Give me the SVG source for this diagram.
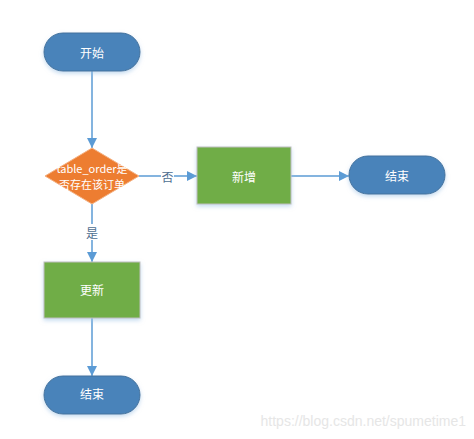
<svg xmlns="http://www.w3.org/2000/svg" width="474" height="439" viewBox="0 0 474 439">
<defs>
<marker id="arr" viewBox="0 0 10 10" refX="10" refY="5" markerWidth="10" markerHeight="10" markerUnits="userSpaceOnUse" orient="auto">
<path d="M0,0 L10,5 L0,10 z" fill="#5B9BD5"/>
</marker>
<filter id="sh" x="-20%" y="-20%" width="140%" height="150%">
<feDropShadow dx="0" dy="2" stdDeviation="2" flood-color="#9DC3E6" flood-opacity="0.6"/>
</filter>
</defs>
<style>
.term{fill:#4A83BA;stroke:#41719C;stroke-width:1;filter:url(#sh)}
.proc{fill:#70AD47;stroke:#BFBFBF;stroke-width:1;filter:url(#sh)}
.dec{fill:#ED7D31;stroke:#F4B183;stroke-width:1}
.t{font-family:"Noto Sans CJK SC","Microsoft YaHei",sans-serif;font-size:12px;fill:#FFFFFF;text-anchor:middle;dominant-baseline:central}
.td{font-size:11px}
.lbl{font-family:"Noto Sans CJK SC",sans-serif;font-size:12px;fill:#4E6E90;text-anchor:middle;dominant-baseline:central}
.c{stroke:#5B9BD5;stroke-width:1.5;fill:none;marker-end:url(#arr)}
</style>
<rect width="474" height="439" fill="#FFFFFF"/>
<g id="connectors">
<line class="c" x1="92" y1="71" x2="92" y2="148"/>
<line class="c" x1="139" y1="176" x2="197" y2="176"/>
<line class="c" x1="291" y1="176" x2="349" y2="176"/>
<line class="c" x1="92" y1="204" x2="92" y2="262"/>
<line class="c" x1="92" y1="318" x2="92" y2="376"/>
<rect x="161" y="168" width="13" height="16" fill="#FFFFFF"/>
<text class="lbl" x="167.5" y="176">否</text>
<rect x="85" y="224" width="14" height="16" fill="#FFFFFF"/>
<text class="lbl" x="92" y="232">是</text>
</g>
<g id="start">
<rect class="term" x="44" y="33" width="96" height="38" rx="19" ry="19"/>
<text class="t" x="92" y="52">开始</text>
</g>
<g id="decision">
<polygon class="dec" points="92,148 139,176 92,204 45,176"/>
<text class="t td" x="92" y="168">table_order是</text>
<text class="t td" x="92" y="184">否存在该订单</text>
</g>
<g id="add">
<rect class="proc" x="197" y="147" width="94" height="57"/>
<text class="t" x="244" y="176">新增</text>
</g>
<g id="end1">
<rect class="term" x="349" y="156" width="96" height="38" rx="19" ry="19"/>
<text class="t" x="397" y="175">结束</text>
</g>
<g id="update">
<rect class="proc" x="44" y="262" width="96" height="56"/>
<text class="t" x="92" y="289">更新</text>
</g>
<g id="end2">
<rect class="term" x="44" y="376" width="96" height="38" rx="19" ry="19"/>
<text class="t" x="92" y="393">结束</text>
</g>
<text x="466" y="426" font-family="'Liberation Sans',Arial,sans-serif" font-size="14" fill="#E6E6E6" text-anchor="end">https://blog.csdn.net/spumetime1</text>
</svg>
